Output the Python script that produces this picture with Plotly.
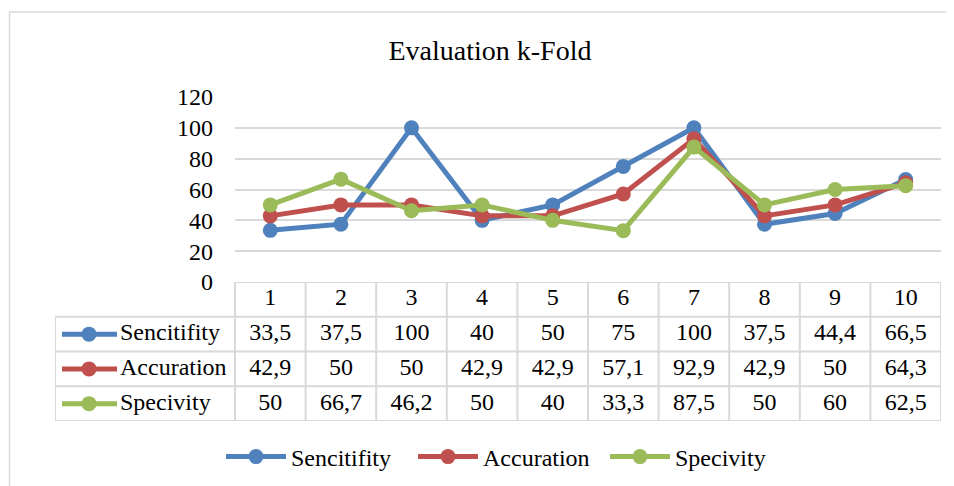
import plotly.graph_objects as go

# ---------------- data ----------------
folds = list(range(1, 11))
fold_labels = [str(f) for f in folds]
series_names = ["Sencitifity", "Accuration", "Specivity"]
sencitifity = [33.5, 37.5, 100, 40, 50, 75, 100, 37.5, 44.4, 66.5]
accuration = [42.9, 50, 50, 42.9, 42.9, 57.1, 92.9, 42.9, 50, 64.3]
specivity = [50, 66.7, 46.2, 50, 40, 33.3, 87.5, 50, 60, 62.5]
y_ticks = [0, 20, 40, 60, 80, 100, 120]
title_text = "Evaluation k-Fold"

series_values = [sencitifity, accuration, specivity]
colors = ["#4F81BD", "#C0504D", "#9BBB59"]

# ---------------- layout constants (screen pixels) ----------------
OFF = 8                      # default page body margin
W, H = 954 - OFF, 486 - OFF  # figure size so the page fits the window
FONT = "Liberation Serif, Times New Roman, serif"
GRID = "#d9d9d9"
FS = 24

plot_left, plot_right = 235, 941
plot_top, plot_bottom = 97, 282
table_left, table_bottom = 55, 421

def fx(p):
    return (p - OFF) / W

def fy(p):
    return 1 - (p - OFF) / H

col_w = (plot_right - plot_left) / len(folds)
x2_lo = 0.5 - (plot_left - table_left) / col_w
x2_hi = len(folds) + 0.5

def px_to_x2(p):
    return x2_lo + (p - table_left) / col_w

def fmt(v):
    return ("%g" % v).replace(".", ",")

fig = go.Figure()

# main line traces
for name, vals, c in zip(series_names, series_values, colors):
    fig.add_trace(go.Scatter(
        x=folds, y=vals, name=name, mode="lines+markers",
        line=dict(color=c, width=5),
        marker=dict(color=c, size=15),
        xaxis="x", yaxis="y", showlegend=True,
    ))

# ---------------- data table ----------------
n_rows = len(series_names) + 1  # header + series rows
header_row = n_rows - 0.5
tfont = dict(family=FONT, size=FS, color="black")

fig.add_trace(go.Scatter(
    x=folds, y=[header_row] * len(folds), text=fold_labels, mode="text",
    textfont=tfont, xaxis="x2", yaxis="y2", showlegend=False,
    hoverinfo="skip", cliponaxis=False,
))

for i, (name, vals, c) in enumerate(zip(series_names, series_values, colors)):
    row_y = n_rows - 1.5 - i
    fig.add_trace(go.Scatter(
        x=folds, y=[row_y] * len(folds), text=[fmt(v) for v in vals], mode="text",
        textfont=tfont, xaxis="x2", yaxis="y2", showlegend=False,
        hoverinfo="skip", cliponaxis=False,
    ))
    fig.add_trace(go.Scatter(
        x=[px_to_x2(62), px_to_x2(117)], y=[row_y, row_y], mode="lines",
        line=dict(color=c, width=5),
        xaxis="x2", yaxis="y2", showlegend=False, hoverinfo="skip", cliponaxis=False,
    ))
    fig.add_trace(go.Scatter(
        x=[px_to_x2(89)], y=[row_y], mode="markers",
        marker=dict(color=c, size=15),
        xaxis="x2", yaxis="y2", showlegend=False, hoverinfo="skip", cliponaxis=False,
    ))
    fig.add_trace(go.Scatter(
        x=[px_to_x2(120)], y=[row_y], text=[name], mode="text", textposition="middle right",
        textfont=tfont, xaxis="x2", yaxis="y2", showlegend=False,
        hoverinfo="skip", cliponaxis=False,
    ))

shapes = []
line_style = dict(color=GRID, width=2)
shapes.append(dict(type="line", xref="x2", yref="y2", x0=0.5, x1=x2_hi,
                   y0=n_rows, y1=n_rows, line=line_style))
for r in range(n_rows):
    shapes.append(dict(type="line", xref="x2", yref="y2", x0=x2_lo, x1=x2_hi,
                       y0=r, y1=r, line=line_style))
for k in range(len(folds) + 1):
    xv = 0.5 + k
    shapes.append(dict(type="line", xref="x2", yref="y2", x0=xv, x1=xv,
                       y0=0, y1=n_rows, line=line_style))
shapes.append(dict(type="line", xref="x2", yref="y2", x0=x2_lo, x1=x2_lo,
                   y0=0, y1=n_rows - 1, line=line_style))

# outer chart frame
shapes.append(dict(type="rect", xref="paper", yref="paper",
                   x0=fx(9.5), x1=fx(990), y0=fy(12), y1=fy(520),
                   line=dict(color=GRID, width=1.5), fillcolor="rgba(0,0,0,0)", layer="below"))

fig.update_layout(
    width=W, height=H,
    margin=dict(l=0, r=0, t=0, b=0, autoexpand=False),
    paper_bgcolor="white", plot_bgcolor="white",
    font=dict(family=FONT, size=FS, color="black"),
    title=dict(text=title_text, x=fx(490), y=fy(50), xanchor="center", yanchor="middle",
               font=dict(family=FONT, size=28, color="black")),
    xaxis=dict(domain=[fx(plot_left), fx(plot_right)], range=[0.5, len(folds) + 0.5],
               showgrid=False, showticklabels=False, zeroline=False, showline=False),
    yaxis=dict(domain=[fy(plot_bottom), fy(plot_top)], range=[0, 120], tickvals=y_ticks,
               showgrid=True, gridcolor=GRID, gridwidth=2, zeroline=False, showline=False,
               automargin=False, ticklabelstandoff=21,
               tickfont=dict(family=FONT, size=FS, color="black")),
    xaxis2=dict(domain=[fx(table_left), fx(plot_right)], range=[x2_lo, x2_hi], anchor="y2",
                showgrid=False, showticklabels=False, zeroline=False, showline=False),
    yaxis2=dict(domain=[fy(table_bottom), fy(plot_bottom)], range=[0, n_rows], anchor="x2",
                showgrid=False, showticklabels=False, zeroline=False, showline=False),
    legend=dict(orientation="h", x=fx(221), y=fy(457), xanchor="left", yanchor="middle",
                font=dict(family=FONT, size=FS, color="black"), itemwidth=60,
                entrywidth=117, bgcolor="rgba(0,0,0,0)"),
    shapes=shapes,
    showlegend=True,
)

fig.write_html("out.html")
